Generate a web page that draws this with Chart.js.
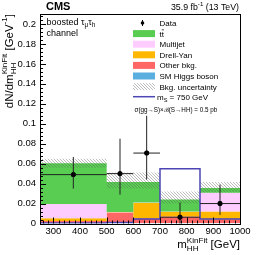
<!DOCTYPE html>
<html>
<head>
<meta charset="utf-8">
<script src="https://cdn.jsdelivr.net/npm/chart.js"></script>
<style>
  html, body { margin: 0; padding: 0; background: #fff; overflow: hidden; }
  canvas { display: block; }
</style>
</head>
<body>
<canvas id="myChart" width="266" height="255"></canvas>
<script>
// bins in m_HH^KinFit [GeV]
const binEdges = [250, 500, 600, 700, 850, 1000];

// background components, per bin (dN/dm)
const smHiggs  = [0.0005, 0.0005, 0.0005, 0.0005, 0.0005];
const otherBkg = [0.0020, 0.0105, 0.0048, 0.0066, 0.0038];
const drellYan = [0.0028, 0.0003, 0.0152, 0.0046, 0.0077];
const multijet = [0.0142, 0.0003, 0.0005, 0.0003, 0.0187];
const ttbar    = [0.0410, 0.0299, 0.0205, 0.0120, 0.0050];

// background uncertainty band (lower / upper edge)
const bkgUncLow  = [0.056, 0.035, 0.035, 0.020, 0.031];
const bkgUncHigh = [0.065, 0.051, 0.051, 0.032, 0.0415];

// signal m_S = 750 GeV
const signal = [0.0005, 0.001, 0.0045, 0.055, 0.0045];

// data points with asymmetric errors
const dataX     = [375, 550, 650, 775, 925];
const dataY     = [0.049, 0.050, 0.0706, 0.0063, 0.020];
const dataYLow  = [0.035, 0.029, 0.044, 0.0, 0.0086];
const dataYHigh = [0.0667, 0.085, 0.108, 0.021, 0.039];

const xTicks = [300, 400, 500, 600, 700, 800, 900, 1000];
const yTicks = [0, 0.02, 0.04, 0.06, 0.08, 0.1, 0.12, 0.14, 0.16, 0.18, 0.2];

const FONT = '"Liberation Sans", Arial, sans-serif';
function font(size, weight) {
    return (weight ? weight + ' ' : '') + size + 'px ' + FONT;
}

const colors = {
    higgs: '#5aafe0',
    other: '#ff6666',
    dy: '#ffb700',
    multijet: '#ffccff',
    ttbar: '#58cd52',
    signal: '#4b45b5'
};

function hatch() {
    const c = document.createElement('canvas');
    c.width = 3; c.height = 3;
    const g = c.getContext('2d');
    g.strokeStyle = 'rgba(90,90,90,0.5)';
    g.lineWidth = 0.8;
    g.beginPath();
    g.moveTo(0, 0); g.lineTo(3, 3);
    g.moveTo(-1, 2); g.lineTo(1, 4);
    g.moveTo(2, -1); g.lineTo(4, 1);
    g.stroke();
    return g.createPattern(c, 'repeat');
}
const hatchPattern = hatch();

function stepPoints(vals) {
    const pts = vals.map((v, i) => ({x: binEdges[i], y: v}));
    pts.push({x: binEdges[binEdges.length - 1], y: vals[vals.length - 1]});
    return pts;
}

// cumulative stack
const layers = [smHiggs, otherBkg, drellYan, multijet, ttbar];
const layerColors = [colors.higgs, colors.other, colors.dy, colors.multijet, colors.ttbar];
let running = binEdges.slice(1).map(() => 0);
const stackSets = layers.map((l, k) => {
    running = running.map((r, i) => r + l[i]);
    return {
        data: stepPoints(running),
        stepped: true,
        borderWidth: 0,
        pointRadius: 0,
        backgroundColor: layerColors[k],
        fill: k === 0 ? 'origin' : '-1',
        order: 20 - k
    };
});

// rich text: strings or {sub, sup}
function drawRich(ctx, parts, x, y, size, align) {
    const small = size * 0.7;
    const widths = parts.map(p => {
        if (typeof p === 'string') { ctx.font = font(size); return ctx.measureText(p).width; }
        ctx.font = font(small);
        return Math.max(p.sub ? ctx.measureText(p.sub).width : 0, p.sup ? ctx.measureText(p.sup).width : 0);
    });
    const total = widths.reduce((a, b) => a + b, 0);
    let cx = align === 'right' ? x - total : x;
    ctx.textAlign = 'left';
    ctx.textBaseline = 'alphabetic';
    parts.forEach((p, i) => {
        if (typeof p === 'string') {
            ctx.font = font(size);
            ctx.fillText(p, cx, y);
        } else {
            ctx.font = font(small);
            if (p.sub) ctx.fillText(p.sub, cx, y + size * 0.28);
            if (p.sup) ctx.fillText(p.sup, cx, y - size * 0.45);
        }
        cx += widths[i];
    });
    return total;
}

const errorBars = {
    id: 'errorBars',
    afterDatasetsDraw(chart) {
        const ctx = chart.ctx, xs = chart.scales.x, ys = chart.scales.y;
        ctx.save();
        ctx.strokeStyle = '#222';
        ctx.lineWidth = 1;
        dataX.forEach((x, i) => {
            const py = ys.getPixelForValue(dataY[i]);
            const px = xs.getPixelForValue(x);
            ctx.beginPath();
            ctx.moveTo(xs.getPixelForValue(binEdges[i]), py);
            ctx.lineTo(xs.getPixelForValue(binEdges[i + 1]), py);
            ctx.moveTo(px, ys.getPixelForValue(dataYLow[i]));
            ctx.lineTo(px, ys.getPixelForValue(dataYHigh[i]));
            ctx.stroke();
            ctx.fillStyle = '#000';
            ctx.beginPath();
            ctx.arc(px, py, 2.2, 0, Math.PI * 2);
            ctx.fill();
        });
        ctx.restore();
    }
};

const decorations = {
    id: 'decorations',
    afterDraw(chart) {
        const ctx = chart.ctx, a = chart.chartArea;
        const xs = chart.scales.x, ys = chart.scales.y;
        ctx.save();
        ctx.fillStyle = '#000';
        ctx.strokeStyle = '#000';
        ctx.lineWidth = 1;

        // ticks (inward)
        ctx.beginPath();
        for (let i = 0; i * 0.004 <= ys.max + 1e-9; i++) {
            const py = Math.round(ys.getPixelForValue(i * 0.004)) + 0.5;
            const len = i % 5 === 0 ? 6 : 3;
            ctx.moveTo(a.left, py); ctx.lineTo(a.left + len, py);
        }
        for (let v = 260; v < 1000; v += 20) {
            const px = Math.round(xs.getPixelForValue(v)) + 0.5;
            const len = v % 100 === 0 ? 6 : 3;
            ctx.moveTo(px, a.bottom); ctx.lineTo(px, a.bottom - len);
        }
        ctx.stroke();

        // frame
        ctx.strokeRect(Math.round(a.left) + 0.5, Math.round(a.top) + 0.5,
            Math.round(a.right - a.left), Math.round(a.bottom - a.top));

        // header
        ctx.font = font(11, 'bold');
        ctx.textAlign = 'left';
        ctx.textBaseline = 'alphabetic';
        ctx.fillText('CMS', 46, 10);
        drawRich(ctx, ['35.9 fb', {sup: '-1'}, ' (13 TeV)'], 239, 9.5, 8.8, 'right');

        // channel label
        drawRich(ctx, ['boosted τ', {sub: 'μ'}, 'τ', {sub: 'h'}], 46.5, 24.5, 9, 'left');
        drawRich(ctx, ['channel'], 46.5, 35.5, 9, 'left');

        // axis titles
        ctx.save();
        ctx.translate(12.5, a.top);
        ctx.rotate(-Math.PI / 2);
        drawRich(ctx, ['dN/dm', {sub: 'HH', sup: 'KinFit'}, ' [GeV', {sup: '-1'}, ']'], 0, 0, 11.5, 'right');
        ctx.restore();
        drawRich(ctx, ['m', {sub: 'HH', sup: 'KinFit'}, ' [GeV]'], a.right, 248, 11.5, 'right');

        // legend
        const bx = 133, bw = 22, tx = 159.5;
        const rows = [23, 33.6, 44.2, 54.8, 65.4, 76, 86.6];
        // data
        ctx.beginPath();
        ctx.moveTo(bx + 9.5, rows[0] - 3); ctx.lineTo(bx + 9.5, rows[0] + 3);
        ctx.stroke();
        ctx.beginPath();
        ctx.arc(bx + 9.5, rows[0], 1.8, 0, Math.PI * 2);
        ctx.fill();
        const boxes = [colors.ttbar, colors.multijet, colors.dy, colors.other, colors.higgs, hatchPattern];
        boxes.forEach((c, i) => {
            ctx.fillStyle = c;
            ctx.fillRect(bx, rows[i + 1] - 3.5, bw, 7);
        });
        ctx.fillStyle = '#000';
        const labels = ['Data', null, 'Multijet', 'Drell-Yan', 'Other bkg.', 'SM Higgs boson', 'Bkg. uncertainty'];
        ctx.font = font(8);
        labels.forEach((l, i) => { if (l) ctx.fillText(l, tx, rows[i] + 3); });
        // t tbar
        const tw = ctx.measureText('t').width;
        ctx.fillText('tt', tx, rows[1] + 3);
        ctx.beginPath();
        ctx.lineWidth = 0.7;
        ctx.moveTo(tx + tw, rows[1] - 3.8); ctx.lineTo(tx + 2 * tw, rows[1] - 3.8);
        ctx.stroke();
        // signal
        ctx.strokeStyle = colors.signal;
        ctx.lineWidth = 1.5;
        ctx.beginPath();
        ctx.moveTo(bx, 96.7); ctx.lineTo(bx + bw, 96.7);
        ctx.stroke();
        drawRich(ctx, ['m', {sub: 'S'}, ' = 750 GeV'], 157, 99.5, 8, 'left');
        ctx.font = font(6.3);
        ctx.fillText('σ(gg→S)×ℬ(S→HH) = 0.5 pb', 134.5, 111.5);
        ctx.restore();
    }
};

const ctx = document.getElementById('myChart').getContext('2d');

new Chart(ctx, {
    type: 'line',
    data: {
        datasets: [
            ...stackSets,
            {
                data: stepPoints(bkgUncLow),
                stepped: true, borderWidth: 0, pointRadius: 0, fill: false, order: 9
            },
            {
                data: stepPoints(bkgUncHigh),
                stepped: true, borderWidth: 0, pointRadius: 0,
                backgroundColor: hatchPattern, fill: '-1', order: 8
            },
            {
                data: stepPoints(signal),
                stepped: true, borderWidth: 1.5, pointRadius: 0,
                borderColor: colors.signal, fill: false, order: 3
            },
            {
                data: dataX.map((x, i) => ({x: x, y: dataY[i]})),
                showLine: false, pointRadius: 2.2,
                backgroundColor: '#000', borderColor: '#000', order: 1
            }
        ]
    },
    options: {
        responsive: false,
        animation: false,
        devicePixelRatio: 1,
        layout: {padding: {top: 14, right: 26, left: 0, bottom: 0}},
        plugins: {legend: {display: false}, tooltip: {enabled: false}},
        scales: {
            x: {
                type: 'linear',
                min: 250,
                max: 1000,
                grid: {display: false, drawTicks: false},
                border: {display: false},
                afterBuildTicks: scale => { scale.ticks = xTicks.map(v => ({value: v})); },
                afterFit: scale => { scale.height = 31.5; },
                ticks: {
                    color: '#000',
                    font: {size: 9.5, family: FONT},
                    padding: 2,
                    maxRotation: 0,
                    autoSkip: false,
                    callback: v => String(v)
                }
            },
            y: {
                min: 0,
                max: 0.21,
                grid: {display: false, drawTicks: false},
                border: {display: false},
                afterBuildTicks: scale => { scale.ticks = yTicks.map(v => ({value: v})); },
                afterFit: scale => { scale.width = 40; },
                ticks: {
                    color: '#000',
                    font: {size: 9.5, family: FONT},
                    padding: 4,
                    autoSkip: false,
                    callback: v => String(+v.toFixed(3))
                }
            }
        }
    },
    plugins: [errorBars, decorations]
});
</script>
</body>
</html>
